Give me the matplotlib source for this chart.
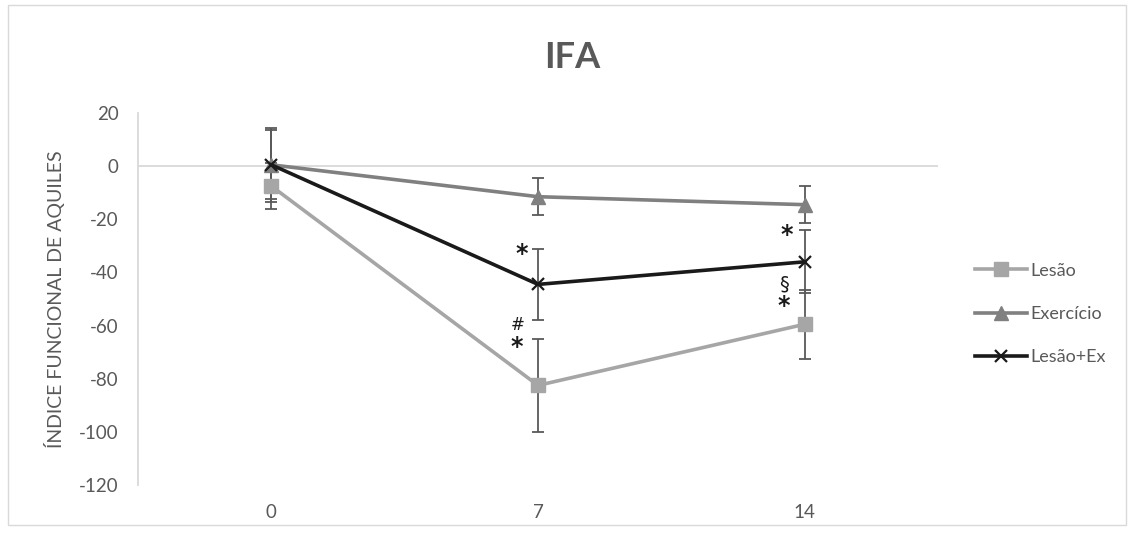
import matplotlib
matplotlib.use("Agg")
import matplotlib.pyplot as plt
from matplotlib.patches import Rectangle

plt.rcParams['font.family'] = ['Lato', 'DejaVu Sans']
plt.rcParams['axes.unicode_minus'] = False

days = ["0", "7", "14"]
lesao = [-7.5, -82.5, -59.5]
lesao_err = [8.5, 17.5, 13.0]
exercicio = [0.5, -11.5, -14.5]
exercicio_err = [13.0, 7.0, 7.0]
lesao_ex = [0.5, -44.5, -36.0]
lesao_ex_err = [14.0, 13.3, 11.8]

series_names = ["Lesão", "Exercício", "Lesão+Ex"]
yticks = [20, 0, -20, -40, -60, -80, -100, -120]

fig = plt.figure(figsize=(11.34, 5.33), dpi=100)
fig.patches.append(Rectangle((0.007, 0.015), 0.986, 0.975, transform=fig.transFigure,
                             fill=False, edgecolor="#D9D9D9", linewidth=1.0))
ax = fig.add_axes([0.1217, 0.090, 0.7055, 0.698])

x = list(range(len(days)))
err_color = "#595959"
styles = [
    (lesao, lesao_err, "#A6A6A6", "s", 9.5, 1),
    (exercicio, exercicio_err, "#808080", "^", 10, 1),
    (lesao_ex, lesao_ex_err, "#1A1A1A", "x", 9, 1.6),
]
handles = []
for (vals, errs, col, mk, ms, mew), name in zip(styles, series_names):
    ax.errorbar(x, vals, yerr=errs, fmt="none", ecolor=err_color, elinewidth=1.3,
                capsize=4.5, capthick=1.3, zorder=2)
    h, = ax.plot(x, vals, color=col, marker=mk, markersize=ms, markeredgewidth=mew,
                 markeredgecolor=col, markerfacecolor=col, linewidth=2.6,
                 label=name, zorder=3)
    handles.append(h)

ax.axhline(0, color="#D9D9D9", linewidth=1.3, zorder=1)

ax.set_xlim(-0.5, 2.5)
ax.set_ylim(-120, 20)
ax.set_yticks(yticks)
ax.set_xticks(x)
ax.set_xticklabels(days)
for s in ["top", "right", "bottom"]:
    ax.spines[s].set_visible(False)
ax.spines["left"].set_color("#D9D9D9")
ax.spines["left"].set_linewidth(1.3)
ax.tick_params(axis="y", length=0, pad=14, labelsize=13.5, labelcolor="#595959")
ax.tick_params(axis="x", length=0, pad=14, labelsize=13.5, labelcolor="#595959")
ax.set_ylabel("ÍNDICE FUNCIONAL DE AQUILES", fontsize=14, color="#595959", labelpad=10)

fig.text(0.505, 0.893, "IFA", fontsize=26, fontweight="bold", color="#595959",
         ha="center", va="center")

# significance marks (offsets in points from the error-bar caps)
marks = [
    (1, lesao_ex[1] + lesao_ex_err[1], "*", -11.5, -3.5),
    (1, lesao[1] + lesao_err[1], "#", -15, 10),
    (1, lesao[1] + lesao_err[1], "*", -15, -5.5),
    (2, exercicio[2] - exercicio_err[2], "*", -13, -8.5),
    (2, lesao_ex[2] - lesao_ex_err[2], "§", -15, 6.5),
    (2, lesao_ex[2] - lesao_ex_err[2], "*", -15, -9.5),
]
for xi, yv, txt, dx, dy in marks:
    if txt == "*":
        kw = dict(fontsize=17, fontweight="bold")
    elif txt == "§":
        kw = dict(fontsize=14)
    else:
        kw = dict(fontsize=12)
    ax.annotate(txt, (xi, yv), xytext=(dx, dy), textcoords="offset points",
                ha="center", va="center", color="#1A1A1A",
                family=["DejaVu Sans"], **kw)

ax.legend(handles=handles, loc="center left", bbox_to_anchor=(1.046, 0.46),
          frameon=False, fontsize=13, labelcolor="#595959", handlelength=2.9,
          handletextpad=0.15, labelspacing=1.5, borderaxespad=0, borderpad=0)

fig.savefig("out.png", dpi=100)
